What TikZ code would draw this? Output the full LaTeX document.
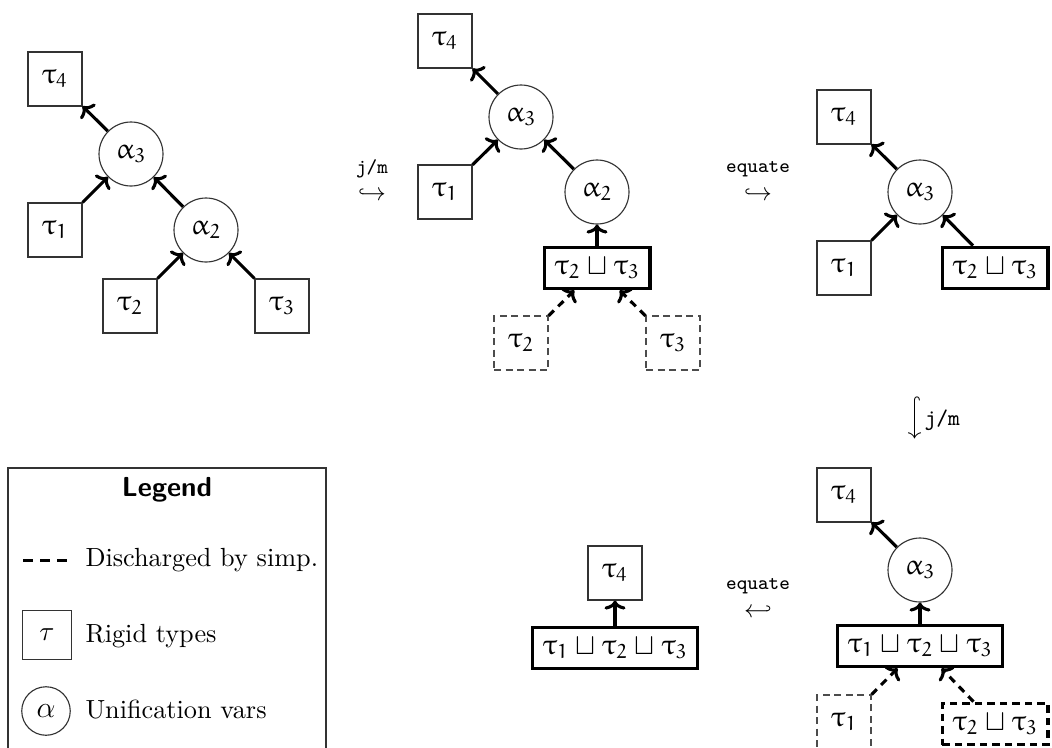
\documentclass[tikz,border=0pt]{standalone}
\usepackage{amsmath,amssymb,mathtools}
\usetikzlibrary{arrows.meta}

% Euler letters and digits for the type variables
\DeclareSymbolFont{eul}{U}{eur}{m}{n}
\DeclareMathSymbol{\etau}{\mathord}{eul}{"1C}
\DeclareMathSymbol{\ealpha}{\mathord}{eul}{"0B}
\DeclareMathAlphabet{\mathe}{U}{eur}{m}{n}
\newcommand{\rty}[1]{\etau_{\mathe{#1}}}
\newcommand{\uvr}[1]{\ealpha_{\mathe{#1}}}
\newcommand{\jn}{\sqcup}

\tikzset{
  nodefont/.style={font=\fontsize{11.5}{13}\selectfont},
  rigid/.style={nodefont, draw=black!80, line width=0.45pt, minimum size=21.6pt, inner sep=0pt},
  uvar/.style={nodefont, circle, draw=black!80, line width=0.45pt, minimum size=25.6pt, inner sep=0pt},
  joined/.style={nodefont, draw, line width=1.4pt, minimum height=16.5pt, inner xsep=4pt, inner ysep=0pt},
  gone/.style={rigid, draw=black!70, dash pattern=on 2.8pt off 1.8pt},
  gonejoined/.style={joined, dash pattern=on 3pt off 2pt},
  flow/.style={line width=1.25pt, -{Computer Modern Rightarrow[length=3.6pt,width=8.4pt]}},
  flowgone/.style={flow, dash pattern=on 3pt off 2.4pt},
  trans/.style={inner sep=0pt, align=center},
  legtext/.style={anchor=base west, inner sep=0pt, font=\fontsize{10.5}{12}\selectfont},
}

\begin{document}
\begin{tikzpicture}[x=0.4pt, y=-0.4pt]
\useasboundingbox (0,0) rectangle (1052,747);

% ---- initial constraint graph
\node[rigid] (p1t4) at (55,79)  {$\rty4$};
\node[uvar]  (p1a3) at (131,154) {$\uvr3$};
\node[rigid] (p1t1) at (55,230) {$\rty1$};
\node[uvar]  (p1a2) at (206,230) {$\uvr2$};
\node[rigid] (p1t2) at (130,306) {$\rty2$};
\node[rigid] (p1t3) at (282,306) {$\rty3$};
\draw[flow] (p1a3) -- (p1t4);
\draw[flow] (p1t1) -- (p1a3);
\draw[flow] (p1a2) -- (p1a3);
\draw[flow] (p1t2) -- (p1a2);
\draw[flow] (p1t3) -- (p1a2);

\node[trans] (s1) at (372,180) {{\footnotesize\texttt{j/m}}\\[-1pt]$\hookrightarrow$};

% ---- after join/meet of alpha_2
\node[rigid] (p2t4) at (445,41)  {$\rty4$};
\node[uvar]  (p2a3) at (521,117) {$\uvr3$};
\node[rigid] (p2t1) at (445,192) {$\rty1$};
\node[uvar]  (p2a2) at (597,192) {$\uvr2$};
\node[joined] (p2j) at (597,268) {$\rty2 \jn \rty3$};
\node[gone]  (p2t2) at (521,343) {$\rty2$};
\node[gone]  (p2t3) at (673,343) {$\rty3$};
\draw[flow] (p2a3) -- (p2t4);
\draw[flow] (p2t1) -- (p2a3);
\draw[flow] (p2a2) -- (p2a3);
\draw[flow] (p2j) -- (p2a2);
\draw[flowgone] (p2t2) -- (p2j);
\draw[flowgone] (p2t3) -- (p2j);

\node[trans] (s2) at (758,181) {{\footnotesize\texttt{equate}}\\[-1pt]$\hookrightarrow$};

% ---- after equating alpha_2
\node[rigid] (p3t4) at (844,117) {$\rty4$};
\node[uvar]  (p3a3) at (920,192) {$\uvr3$};
\node[rigid] (p3t1) at (844,268) {$\rty1$};
\node[joined] (p3j) at (995,268) {$\rty2 \jn \rty3$};
\draw[flow] (p3a3) -- (p3t4);
\draw[flow] (p3t1) -- (p3a3);
\draw[flow] (p3j) -- (p3a3);

\node[trans] (s3) at (918,418) {\rotatebox{-90}{$\xhookrightarrow{\hspace{12pt}}$}};
\node[anchor=west, inner sep=0pt] (s3l) at (924,420) {\small\texttt{j/m}};

% ---- after join/meet of alpha_3
\node[rigid] (p4t4) at (844,495) {$\rty4$};
\node[uvar]  (p4a3) at (920,570) {$\uvr3$};
\node[joined] (p4j) at (920,646) {$\rty1 \jn \rty2 \jn \rty3$};
\node[gone]  (p4t1) at (844,722) {$\rty1$};
\node[gonejoined] (p4d) at (995,724) {$\rty2 \jn \rty3$};
\draw[flow] (p4a3) -- (p4t4);
\draw[flow] (p4j) -- (p4a3);
\draw[flowgone] (p4t1) -- (p4j);
\draw[flowgone] (p4d) -- (p4j);

\node[trans] (s4) at (758,598) {{\footnotesize\texttt{equate}}\\[-1pt]$\hookleftarrow$};

% ---- final graph
\node[rigid] (p5t4) at (615,573) {$\rty4$};
\node[joined] (p5j) at (615,648) {$\rty1 \jn \rty2 \jn \rty3$};
\draw[flow] (p5j) -- (p5t4);

% ---- legend
\draw[line width=0.5pt, draw=black!80] (8,800) -- (8,468) -- (326,468) -- (326,800);
\node (legtitle) at (167,490) {\fontsize{11}{13}\selectfont\sffamily\bfseries Legend};
\coordinate (dsA) at (23,560);
\coordinate (dsB) at (68,560);
\draw[line width=1.2pt, dash pattern=on 4pt off 2.8pt] (dsA) -- (dsB);
\node[legtext] (legd) at (85,566) {Discharged by simp.};
\node[rigid, minimum size=19.6pt, font=\fontsize{11}{13}\selectfont] (legt) at (47,635) {$\tau$};
\node[legtext] (legr) at (85,642) {Rigid types};
\node[uvar, minimum size=19.4pt, font=\fontsize{12.5}{14}\selectfont] (lega) at (46,711) {$\alpha$};
\node[legtext] (legu) at (85,718) {Unification vars};
\end{tikzpicture}
\end{document}
